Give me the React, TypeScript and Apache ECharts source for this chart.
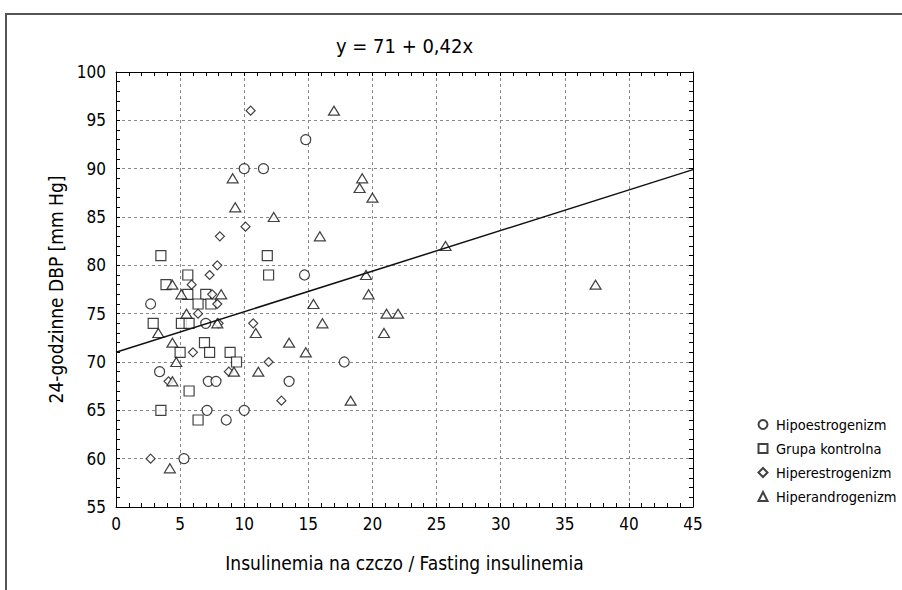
import React, { useEffect, useRef } from "react";
import * as echarts from "echarts";

const FONT = "'DejaVu Sans Condensed', 'DejaVu Sans', sans-serif";

const titleText = "y = 71 + 0,42x";
const xName = "Insulinemia na czczo / Fasting insulinemia";
const yName = "24-godzinne DBP [mm Hg]";
const seriesNames = ["Hipoestrogenizm", "Grupa kontrolna", "Hiperestrogenizm", "Hiperandrogenizm"];

const hipoestrogenizm: number[][] = [
  [14.8, 93], [10.0, 90], [11.5, 90], [14.7, 79], [2.7, 76], [7.0, 74], [3.4, 69], [17.8, 70],
  [7.2, 68], [7.8, 68], [13.5, 68], [7.1, 65], [10.0, 65], [8.6, 64], [5.3, 60],
];
const grupaKontrolna: number[][] = [
  [3.5, 81], [11.8, 81], [5.6, 79], [11.9, 79], [3.9, 78], [5.6, 77], [7.0, 77], [6.4, 76],
  [7.4, 76], [2.9, 74], [5.1, 74], [5.7, 74], [6.9, 72], [5.0, 71], [7.3, 71], [8.9, 71],
  [9.4, 70], [5.7, 67], [3.5, 65], [6.4, 64],
];
const hiperestrogenizm: number[][] = [
  [10.5, 96], [10.1, 84], [8.1, 83], [7.9, 80], [7.3, 79], [5.9, 78], [7.5, 77], [7.9, 76],
  [6.4, 75], [8.0, 74], [10.7, 74], [6.0, 71], [11.9, 70], [8.8, 69], [4.1, 68], [12.9, 66],
  [2.7, 60],
];
const hiperandrogenizm: number[][] = [
  [17.0, 96], [9.1, 89], [19.2, 89], [19.0, 88], [20.0, 87], [9.3, 86], [12.3, 85], [15.9, 83],
  [25.7, 82], [19.5, 79], [37.4, 78], [4.4, 78], [5.1, 77], [8.2, 77], [19.7, 77], [15.4, 76],
  [5.5, 75], [21.1, 75], [22.0, 75], [7.9, 74], [16.1, 74], [3.3, 73], [10.9, 73], [20.9, 73],
  [4.4, 72], [13.5, 72], [14.8, 71], [4.7, 70], [9.2, 69], [11.1, 69], [4.4, 68], [18.3, 66],
  [4.2, 59],
];
const regressionLine: number[][] = [[0, 71], [45, 89.9]];

export default function App() {
  const ref = useRef<HTMLDivElement>(null);
  useEffect(() => {
    const chart = echarts.init(ref.current!, null, { renderer: "svg" });
    const axisLine = { show: true, onZero: false, lineStyle: { color: "#000", width: 1 } };
    const tick = { show: true, inside: true, length: 4, lineStyle: { color: "#000", width: 1 } };
    const minor = { show: true, splitNumber: 5, length: 4, lineStyle: { color: "#000", width: 1 } };
    const grid = { show: true, lineStyle: { color: "#888", width: 1, type: [3, 3] } };
    const label = { color: "#000", fontSize: 17, fontFamily: FONT };
    const nameStyle = { color: "#000", fontSize: 19, fontFamily: FONT };
    const pointStyle = { color: "#fff", borderColor: "#111", borderWidth: 1.2 };
    const mk = (name: string, data: number[][], symbol: string, size: any) => ({
      name, type: "scatter", data, symbol, symbolSize: size, itemStyle: pointStyle,
      xAxisIndex: 0, yAxisIndex: 0,
    });
    chart.setOption({
      animation: false,
      backgroundColor: "#fff",
      grid: { left: 116, top: 72, width: 577, height: 435 },
      xAxis: [
        {
          type: "value", min: 0, max: 45, interval: 5, position: "bottom",
          axisLine, axisTick: tick, minorTick: minor, splitLine: grid,
          axisLabel: { ...label, margin: 8 },
          name: xName, nameLocation: "middle", nameGap: 46, nameTextStyle: nameStyle,
        },
        {
          type: "value", min: 0, max: 45, interval: 5, position: "top",
          axisLine, axisTick: tick, minorTick: minor, splitLine: { show: false },
          axisLabel: { show: false },
        },
      ],
      yAxis: [
        {
          type: "value", min: 55, max: 100, interval: 5, position: "left",
          axisLine, axisTick: tick, minorTick: minor, splitLine: grid,
          axisLabel: { ...label, margin: 10 },
          name: yName, nameLocation: "middle", nameGap: 29, nameTextStyle: nameStyle,
        },
        {
          type: "value", min: 55, max: 100, interval: 5, position: "right",
          axisLine, axisTick: tick, minorTick: minor, splitLine: { show: false },
          axisLabel: { show: false },
        },
      ],
      legend: {
        data: seriesNames,
        orient: "vertical",
        left: 757.5,
        top: 417,
        padding: 0,
        itemWidth: 9,
        itemHeight: 9,
        itemGap: 9,
        textStyle: { color: "#000", fontSize: 14.5, fontFamily: FONT, lineHeight: 14.5, padding: [0, 0, 0, 3.5] },
      },
      graphic: [
        {
          type: "rect", silent: true, z: -10,
          shape: { x: 6, y: 14, width: 1000, height: 1000 },
          style: { fill: "none", stroke: "#555", lineWidth: 2 },
        },
        {
          type: "text", silent: true,
          x: 404.5, y: 46,
          style: { text: titleText, fill: "#000", fontSize: 20, fontFamily: FONT, align: "center", verticalAlign: "middle" },
        },
      ],
      series: [
        mk(seriesNames[0], hipoestrogenizm, "circle", 10),
        mk(seriesNames[1], grupaKontrolna, "rect", 10),
        mk(seriesNames[2], hiperestrogenizm, "diamond", 9),
        mk(seriesNames[3], hiperandrogenizm, "triangle", [11, 9]),
        {
          type: "line", data: regressionLine, symbol: "none", silent: true,
          lineStyle: { color: "#111", width: 1.5 }, xAxisIndex: 0, yAxisIndex: 0,
        },
      ],
    });
    return () => chart.dispose();
  }, []);
  return (
    <div
      ref={ref}
      style={{ position: "fixed", left: 0, top: 0, width: 902, height: 590, background: "#fff" }}
    />
  );
}
